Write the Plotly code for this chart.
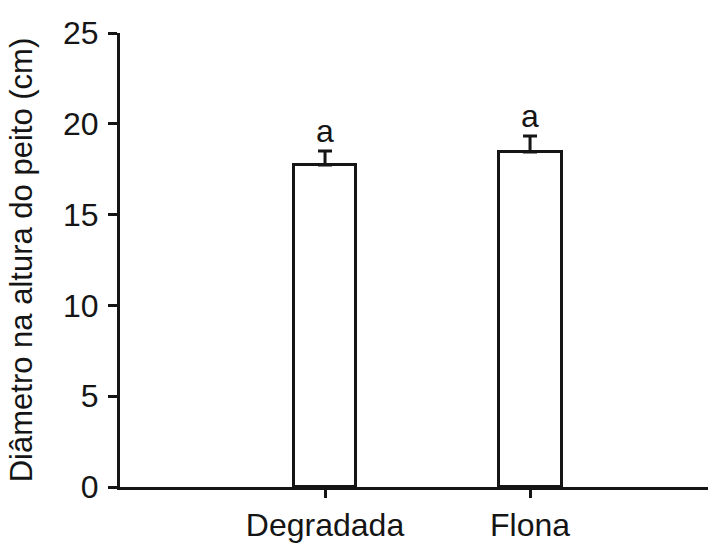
import plotly.graph_objects as go

categories = ["Degradada", "Flona"]
means = [17.73, 18.45]
errors = [0.77, 0.88]
letters = ["a", "a"]
y_ticks = [0, 5, 10, 15, 20, 25]

FONT = "Liberation Sans, Arial, sans-serif"
INK = "#151515"
FS = 32

fig = go.Figure()
fig.add_trace(go.Bar(
    x=categories, y=means,
    width=0.307,
    marker=dict(color="white", line=dict(color=INK, width=3)),
    error_y=dict(type="data", array=errors, symmetric=False, arrayminus=[0, 0],
                 color=INK, thickness=3, width=7),
    showlegend=False,
))

for c, m, e, t in zip(categories, means, errors, letters):
    fig.add_annotation(x=c, y=m + e, text=t, showarrow=False,
                       yanchor="bottom", yshift=0,
                       font=dict(family=FONT, size=FS, color=INK))

fig.update_layout(
    width=710, height=548,
    margin=dict(l=120, r=2, t=33, b=61),
    plot_bgcolor="white", paper_bgcolor="white",
    font=dict(family=FONT, size=FS, color=INK),
    bargap=0,
)
fig.update_xaxes(
    type="category", range=[-1.0, 1.868],
    showline=True, linecolor=INK, linewidth=3,
    ticks="outside", ticklen=8, tickwidth=3, tickcolor=INK,
    showgrid=False, zeroline=False,
    tickfont=dict(family=FONT, size=FS, color=INK),
)
fig.update_yaxes(
    range=[0, 25], tickvals=y_ticks,
    showline=True, linecolor=INK, linewidth=3,
    ticks="outside", ticklen=9, tickwidth=3, tickcolor=INK,
    ticklabelstandoff=3,
    showgrid=False, zeroline=False,
    tickfont=dict(family=FONT, size=FS, color=INK),
    title=dict(text="Diâmetro na altura do peito (cm)", standoff=22,
               font=dict(family=FONT, size=31, color=INK)),
)

fig.write_html("out.html")
